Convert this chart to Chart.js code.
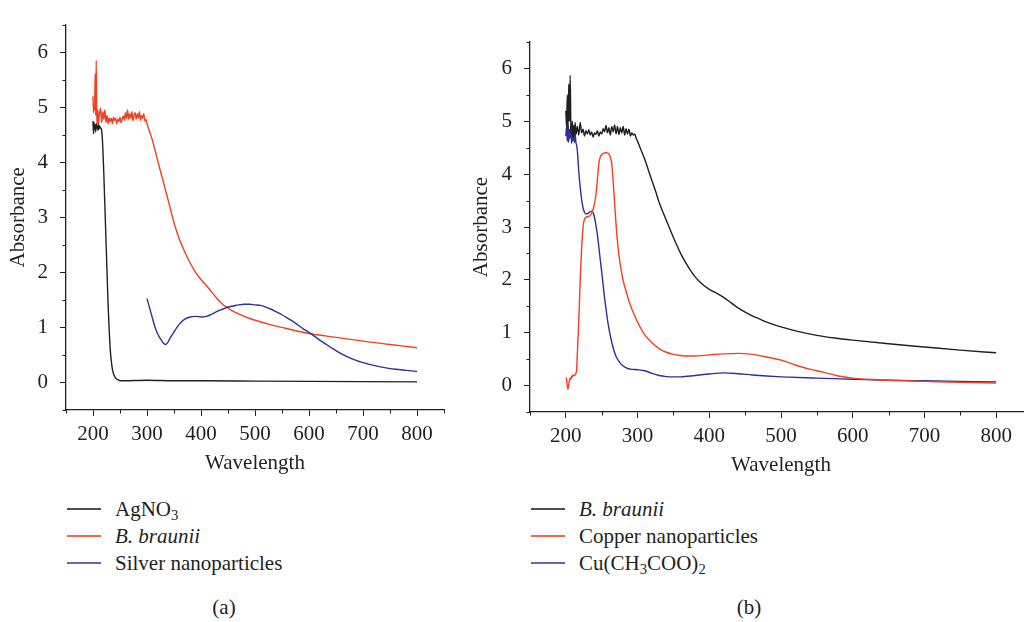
<!DOCTYPE html>
<html>
<head>
<meta charset="utf-8">
<script src="https://cdn.jsdelivr.net/npm/chart.js@4.4.1/dist/chart.umd.min.js"></script>
<style>
  html, body { margin: 0; padding: 0; background: #fff; }
  body { width: 1024px; height: 622px; overflow: hidden; position: relative;
         font-family: "Liberation Serif", "DejaVu Serif", serif; color: #231f20; }
  canvas { position: absolute; top: 0; }
  #chartA { left: 0; }
  #chartB { left: 460px; }
  .legend { position: absolute; top: 496px; font-size: 21px; line-height: 26px; }
  .legend div { position: relative; height: 27px; padding-left: 48px; white-space: nowrap; }
  .legend .sw { position: absolute; left: 0; top: 12px; width: 34px; height: 2px; }
  .legend sub { font-size: 70%; vertical-align: -4px; line-height: 0; }
  .panel { position: absolute; top: 594px; font-size: 21px; line-height: 26px; transform: translateX(-50%); }
</style>
</head>
<body>
<canvas id="chartA" width="460" height="480"></canvas>
<canvas id="chartB" width="580" height="480"></canvas>

<div class="legend" style="left:67px">
  <div><span class="sw" style="background:#4d4d4d"></span>AgNO<sub>3</sub></div>
  <div><span class="sw" style="background:#f26a55"></span><i>B. braunii</i></div>
  <div><span class="sw" style="background:#6a64b6"></span>Silver nanoparticles</div>
</div>
<div class="legend" style="left:531px">
  <div><span class="sw" style="background:#4d4d4d"></span><i>B. braunii</i></div>
  <div><span class="sw" style="background:#f26a55"></span>Copper nanoparticles</div>
  <div><span class="sw" style="background:#6a64b6"></span>Cu(CH<sub>3</sub>COO)<sub>2</sub></div>
</div>
<div class="panel" style="left:224px">(a)</div>
<div class="panel" style="left:749px">(b)</div>

<script>
// axis ticks
const xTicks = [200, 300, 400, 500, 600, 700, 800];
const xMinorTicks = [150, 250, 350, 450, 550, 650, 750, 850];
const yTicks = [0, 1, 2, 3, 4, 5, 6];
const yMinorTicks = [-0.5, 0.5, 1.5, 2.5, 3.5, 4.5, 5.5, 6.5];

// (a) AgNO3
const agWl = [200, 201, 202, 203, 204, 205, 206, 207, 208, 209, 210, 211, 212, 214, 216, 218, 220, 222, 224, 226, 228, 230, 232, 234, 236, 239, 243, 248, 255, 300, 350, 400, 500, 600, 700, 800];
const agAbs = [4.75, 4.52, 4.72, 4.6, 4.68, 4.55, 4.7, 4.62, 4.66, 4.58, 4.7, 4.6, 4.66, 4.62, 4.58, 4.3, 3.8, 3.2, 2.6, 2.0, 1.4, 0.95, 0.6, 0.38, 0.24, 0.13, 0.07, 0.04, 0.03, 0.04, 0.03, 0.03, 0.025, 0.02, 0.015, 0.01];

// (a) B. braunii
const bbAWl = [200, 201, 202, 203, 204, 205, 206, 207, 208, 209, 210, 212, 214, 216, 218, 220, 222, 224, 226, 228, 230, 232, 234, 236, 238, 240, 242, 244, 246, 248, 250, 252, 254, 256, 258, 260, 262, 264, 266, 268, 270, 272, 274, 276, 278, 280, 282, 284, 286, 288, 290, 292, 294, 296, 298, 300, 305, 310, 320, 330, 340, 350, 360, 370, 380, 390, 400, 410, 420, 430, 440, 450, 460, 480, 500, 525, 550, 575, 600, 650, 700, 750, 800];
const bbAAbs = [5.2, 4.9, 5.05, 4.95, 5.6, 4.85, 5.85, 4.7, 4.75, 4.95, 4.7, 4.88, 4.98, 4.72, 4.92, 4.78, 4.95, 4.72, 4.85, 4.7, 4.8, 4.74, 4.8, 4.7, 4.82, 4.76, 4.8, 4.7, 4.78, 4.74, 4.82, 4.72, 4.78, 4.84, 4.76, 4.9, 4.8, 4.95, 4.78, 4.88, 4.8, 4.92, 4.75, 4.86, 4.9, 4.78, 4.88, 4.8, 4.92, 4.76, 4.85, 4.8, 4.88, 4.75, 4.78, 4.7, 4.55, 4.4, 4.02, 3.65, 3.28, 2.9, 2.6, 2.37, 2.17, 2.0, 1.87, 1.76, 1.64, 1.52, 1.42, 1.35, 1.29, 1.2, 1.13, 1.06, 1.0, 0.94, 0.89, 0.82, 0.75, 0.69, 0.63];

// (a) Silver nanoparticles
const agNpWl = [300, 305, 310, 315, 320, 325, 330, 334, 338, 342, 350, 360, 370, 380, 390, 400, 410, 420, 430, 440, 450, 460, 470, 480, 490, 500, 510, 520, 530, 540, 550, 560, 570, 580, 590, 600, 620, 640, 660, 680, 700, 720, 740, 760, 780, 800];
const agNpAbs = [1.52, 1.35, 1.17, 1.0, 0.88, 0.79, 0.72, 0.69, 0.72, 0.79, 0.92, 1.06, 1.15, 1.19, 1.2, 1.19, 1.2, 1.24, 1.29, 1.33, 1.37, 1.39, 1.41, 1.42, 1.42, 1.41, 1.4, 1.37, 1.33, 1.28, 1.23, 1.17, 1.11, 1.04, 0.97, 0.91, 0.77, 0.64, 0.52, 0.43, 0.36, 0.31, 0.27, 0.24, 0.22, 0.2];

// (b) B. braunii
const bbBWl = [200, 201, 202, 203, 204, 205, 206, 207, 208, 209, 210, 211, 212, 213, 214, 216, 218, 220, 222, 224, 226, 228, 230, 232, 234, 236, 238, 240, 242, 244, 246, 248, 250, 252, 254, 256, 258, 260, 262, 264, 266, 268, 270, 272, 274, 276, 278, 280, 282, 284, 286, 288, 290, 292, 294, 296, 298, 300, 305, 310, 315, 320, 325, 330, 340, 350, 360, 370, 380, 390, 400, 410, 420, 430, 440, 450, 460, 470, 480, 500, 525, 550, 575, 600, 650, 700, 750, 800];
const bbBAbs = [5.2, 4.9, 5.5, 4.85, 5.7, 5.0, 5.87, 4.9, 4.75, 5.0, 4.7, 4.92, 4.72, 4.98, 4.75, 4.9, 4.74, 4.98, 4.78, 4.85, 4.72, 4.82, 4.76, 4.84, 4.74, 4.8, 4.7, 4.78, 4.75, 4.82, 4.72, 4.8, 4.76, 4.86, 4.8, 4.92, 4.78, 4.88, 4.74, 4.9, 4.8, 4.93, 4.76, 4.9, 4.75, 4.88, 4.78, 4.9, 4.74, 4.86, 4.76, 4.85, 4.72, 4.78, 4.74, 4.76, 4.68, 4.62, 4.45, 4.28, 4.08, 3.88, 3.68, 3.47, 3.13, 2.8, 2.5, 2.26, 2.06, 1.92, 1.82, 1.75, 1.67, 1.57, 1.47, 1.39, 1.32, 1.26, 1.2, 1.11, 1.02, 0.95, 0.9, 0.86, 0.79, 0.73, 0.67, 0.62];

// (b) Copper nanoparticles
const cuNpWl = [200, 201, 202, 203, 204, 205, 206, 207, 208, 209, 210, 212, 214, 215, 216, 218, 220, 222, 224, 226, 228, 230, 232, 234, 236, 238, 240, 242, 244, 246, 248, 250, 252, 254, 256, 258, 260, 262, 264, 266, 268, 270, 272, 274, 276, 278, 280, 284, 288, 292, 296, 300, 305, 310, 320, 330, 340, 350, 360, 370, 380, 400, 420, 440, 460, 480, 500, 520, 540, 560, 580, 600, 620, 650, 700, 750, 800];
const cuNpAbs = [0.15, 0.12, -0.02, -0.07, 0.02, 0.1, 0.14, 0.12, 0.18, 0.16, 0.2, 0.19, 0.23, 0.3, 0.6, 1.2, 2.0, 2.6, 3.0, 3.15, 3.18, 3.2, 3.2, 3.22, 3.26, 3.33, 3.45, 3.62, 3.9, 4.2, 4.32, 4.37, 4.39, 4.4, 4.41, 4.4, 4.38, 4.32, 4.2, 3.85, 3.45, 3.05, 2.72, 2.47, 2.28, 2.12, 1.98, 1.78, 1.6, 1.45, 1.32, 1.2, 1.07, 0.96, 0.81, 0.7, 0.63, 0.59, 0.57, 0.56, 0.56, 0.58, 0.6, 0.61, 0.59, 0.54, 0.48, 0.39, 0.31, 0.25, 0.18, 0.14, 0.12, 0.1, 0.08, 0.06, 0.05];

// (b) Cu(CH3COO)2
const cuAcWl = [200, 201, 202, 203, 204, 205, 206, 207, 208, 209, 210, 211, 212, 213, 214, 215, 216, 218, 220, 222, 224, 226, 228, 230, 232, 234, 236, 238, 240, 242, 244, 246, 248, 250, 252, 254, 256, 258, 260, 263, 266, 270, 275, 280, 285, 290, 300, 310, 320, 330, 340, 350, 360, 380, 400, 420, 440, 460, 480, 500, 550, 600, 650, 700, 750, 800];
const cuAcAbs = [4.72, 4.9, 4.62, 4.95, 4.6, 4.85, 4.68, 4.92, 4.58, 4.8, 4.62, 4.88, 4.6, 4.75, 4.6, 4.55, 4.45, 4.05, 3.75, 3.52, 3.36, 3.28, 3.25, 3.25, 3.27, 3.29, 3.3, 3.27, 3.18, 3.02, 2.85, 2.62, 2.38, 2.15, 1.9, 1.66, 1.45, 1.25, 1.08, 0.88, 0.71, 0.55, 0.44, 0.37, 0.33, 0.31, 0.3, 0.28, 0.23, 0.19, 0.17, 0.165, 0.165, 0.19, 0.22, 0.24, 0.225, 0.2, 0.18, 0.165, 0.14, 0.12, 0.1, 0.09, 0.08, 0.07];

const BLACK = "#231f20";
const RED = "#ef4123";
const BLUE = "#2e3192";
const FONT = { family: "'Liberation Serif', 'DejaVu Serif', serif", size: 21, lineHeight: 1.2 };

const pts = (xs, ys) => xs.map((x, i) => ({ x: x, y: ys[i] }));

const line = (label, xs, ys, color) => ({
  label: label,
  data: pts(xs, ys),
  borderColor: color,
  backgroundColor: color,
  borderWidth: 1.4,
  pointRadius: 0,
  cubicInterpolationMode: "monotone",
});

// short minor ticks between the labelled ones
const minorTicks = {
  id: "minorTicks",
  afterDraw(chart) {
    const { ctx, scales: { x, y } } = chart;
    ctx.save();
    ctx.strokeStyle = BLACK;
    ctx.lineWidth = 1;
    ctx.beginPath();
    xMinorTicks.forEach((v) => {
      const px = Math.round(x.getPixelForValue(v)) + 0.5;
      ctx.moveTo(px, x.top);
      ctx.lineTo(px, x.top + 3.5);
    });
    yMinorTicks.forEach((v) => {
      const py = Math.round(y.getPixelForValue(v)) + 0.5;
      ctx.moveTo(y.right - 3.5, py);
      ctx.lineTo(y.right, py);
    });
    ctx.stroke();
    ctx.restore();
  },
};

function makeOptions(o) {
  return {
    responsive: false,
    animation: false,
    devicePixelRatio: 1,
    layout: { padding: { left: 0, top: o.top, right: o.right, bottom: 0 } },
    plugins: { legend: { display: false }, tooltip: { enabled: false } },
    scales: {
      x: {
        type: "linear",
        min: 150,
        max: 850,
        afterBuildTicks: (s) => { s.ticks = xTicks.map((v) => ({ value: v })); },
        afterFit: (s) => { s.height = o.xHeight; },
        grid: { drawOnChartArea: false, color: BLACK, tickLength: 6 },
        border: { color: BLACK, width: 1.3 },
        ticks: { color: BLACK, font: FONT, padding: 6, maxRotation: 0 },
        title: { display: true, text: "Wavelength", color: BLACK, font: FONT, padding: { top: 0, bottom: o.xTitlePad } },
      },
      y: {
        min: -0.5,
        max: 6.5,
        afterBuildTicks: (s) => { s.ticks = yTicks.map((v) => ({ value: v })); },
        afterFit: (s) => { s.width = o.yWidth; },
        grid: { drawOnChartArea: false, color: BLACK, tickLength: 6 },
        border: { color: BLACK, width: 1.3 },
        ticks: { color: BLACK, font: FONT, padding: 12 },
        title: { display: true, text: "Absorbance", color: BLACK, font: FONT, padding: { top: o.yTitlePad, bottom: 0 } },
      },
    },
  };
}

new Chart(document.getElementById("chartA").getContext("2d"), {
  type: "line",
  data: {
    datasets: [
      line("AgNO3", agWl, agAbs, BLACK),
      line("Silver nanoparticles", agNpWl, agNpAbs, BLUE),
      line("B. braunii", bbAWl, bbAAbs, RED),
    ],
  },
  options: makeOptions({ top: 12, right: 16, xHeight: 70, yWidth: 66, xTitlePad: 4, yTitlePad: 6 }),
  plugins: [minorTicks],
});

new Chart(document.getElementById("chartB").getContext("2d"), {
  type: "line",
  data: {
    datasets: [
      line("B. braunii", bbBWl, bbBAbs, BLACK),
      line("Copper nanoparticles", cuNpWl, cuNpAbs, RED),
      line("Cu(CH3COO)2", cuAcWl, cuAcAbs, BLUE),
    ],
  },
  options: makeOptions({ top: 42, right: 8, xHeight: 68, yWidth: 70, xTitlePad: 2, yTitlePad: 9 }),
  plugins: [minorTicks],
});
</script>
</body>
</html>
